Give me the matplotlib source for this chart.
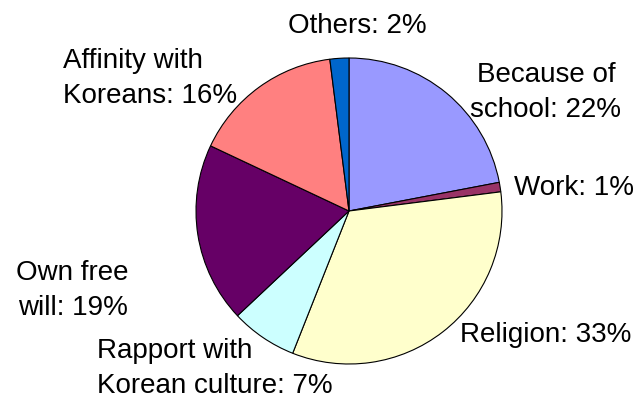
import matplotlib
matplotlib.use("Agg")
import matplotlib.pyplot as plt

# reasons for studying Korean, percent of respondents
categories = ["Because of\nschool", "Work", "Religion", "Rapport with\nKorean culture",
              "Own free\nwill", "Affinity with\nKoreans", "Others"]
shares = [22, 1, 33, 7, 19, 16, 2]
colors = ["#9999FF", "#993366", "#FFFFCC", "#CCFFFF", "#660066", "#FF8080", "#0066CC"]

# label anchor (x, last-line baseline) in figure pixels, plus alignment
label_pos = [(546, 283, "center"), (574, 205, "center"), (546, 58, "center"),
             (97, 7, "left"), (128, 85, "right"), (63, 297, "left"), (357, 367, "center")]

plt.rcParams["font.family"] = ["Liberation Sans", "DejaVu Sans"]

fig = plt.figure(figsize=(6.4, 4.0), dpi=100)
ax = fig.add_axes([0, 0, 1, 1])
ax.set_xlim(0, 640)
ax.set_ylim(0, 400)
ax.set_aspect("equal")
ax.axis("off")

ax.pie(shares, colors=colors, startangle=90, counterclock=False,
       center=(349, 189), radius=153,
       wedgeprops=dict(edgecolor="black", linewidth=0.8))

for name, val, (x, y, ha) in zip(categories, shares, label_pos):
    ax.text(x, y, f"{name}: {val}%", fontsize=20, ha=ha, va="baseline",
            multialignment=ha, linespacing=1.45, color="black")

ax.set_xlim(0, 640)
ax.set_ylim(0, 400)
fig.savefig("out.png", dpi=100)
